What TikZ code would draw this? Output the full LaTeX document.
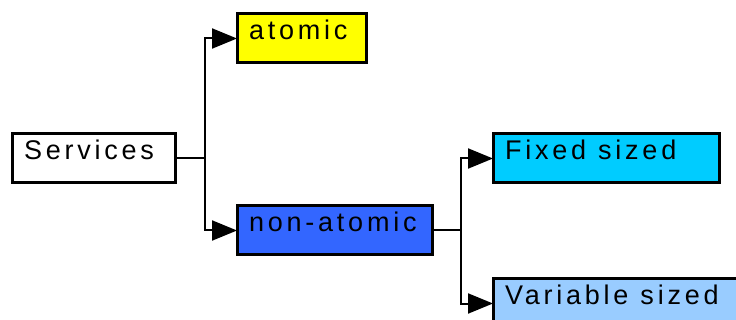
\documentclass[tikz,border=0pt]{standalone}
\usepackage{fontspec}
\setmainfont{Liberation Sans}[LetterSpace=14]
\usetikzlibrary{arrows.meta}
\definecolor{cYellow}{HTML}{FFFF00}
\definecolor{cBlue}{HTML}{3366FF}
\definecolor{cCyan}{HTML}{00CCFF}
\definecolor{cLight}{HTML}{99CCFF}
\newcommand{\wsp}{\hspace{12pt}}
\begin{document}
\begin{tikzpicture}[x=1pt,y=-1pt,
  box/.style={draw=black,line width=3pt,anchor=north west,outer sep=0pt,inner xsep=11pt,inner ysep=0pt,
    minimum height=49pt,text height=20pt,text depth=17pt,align=left,
    font=\fontsize{27}{30}\selectfont},
  conn/.style={line width=2pt,draw=black},
  arr/.style={conn,-{Triangle[length=25pt,width=20pt]}}]
\useasboundingbox (0,0) rectangle (736,320);
\clip (0,0) rectangle (736,320);
\node[box,fill=white,minimum width=163pt,text width=139pt] (serv) at (12,134) {Services};
\node[box,fill=cYellow,minimum width=129pt,text width=105pt] (atom) at (237,14) {atomic};
\node[box,fill=cBlue,minimum width=195pt,text width=171pt] (non) at (237,206) {non-atomic};
\node[box,fill=cCyan,minimum width=226pt,text width=202pt] (fix) at (493,134) {Fixed\wsp sized};
\node[box,fill=cLight,minimum width=260pt,text width=236pt] (var) at (493,279) {Variable\wsp sized};
\coordinate (b1) at (serv.east -| 205,0);
\coordinate (b2) at (non.east -| 461,0);
\draw[conn] (serv.east) -- (b1);
\draw[arr] (b1) |- (atom.west);
\draw[arr] (b1) |- (non.west);
\draw[conn] (non.east) -- (b2);
\draw[arr] (b2) |- (fix.west);
\draw[arr] (b2) |- (var.west);
\end{tikzpicture}
\end{document}
